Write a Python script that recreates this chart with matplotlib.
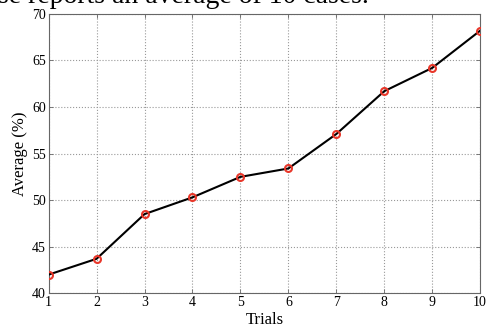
import matplotlib
matplotlib.use('Agg')
import matplotlib.pyplot as plt

# data
trials = [1, 2, 3, 4, 5, 6, 7, 8, 9, 10]
average = [42.0, 43.7, 48.5, 50.3, 52.5, 53.4, 57.1, 61.7, 64.2, 68.2]
yticks = [40, 45, 50, 55, 60, 65, 70]

plt.rcParams['font.family'] = ['Liberation Serif', 'DejaVu Serif']

fig = plt.figure(figsize=(4.86, 3.31), dpi=100)
ax = fig.add_axes([0.100, 0.114, 0.888, 0.844])

ax.plot(trials, average, '-', color='black', lw=1.5, zorder=3)
ax.plot(trials, average, 'o', mfc='none', mec='#e8372a', ms=5, mew=1.5, zorder=4)

ax.set_xlim(1, 10)
ax.set_ylim(40, 70)
ax.set_xticks(trials)
ax.set_yticks(yticks)
ax.tick_params(direction='in', top=True, right=True, length=3, width=0.6,
               color='#666666', labelsize=10, pad=2)
for s in ax.spines.values():
    s.set_color('#666666')
    s.set_linewidth(0.8)
ax.grid(True, linestyle=':', color='#999999', lw=0.8)

ax.set_xlabel('Trials', fontsize=12, labelpad=2)
ax.set_ylabel('Average (%)', fontsize=12, labelpad=3)

# caption from the page above, cut off by the crop
fig.text(-0.005, 1 - 3 / 331, 'se reports an average of 10 cases.',
         fontsize=20, va='baseline', ha='left')

fig.savefig('out.png', dpi=100, facecolor='white')
